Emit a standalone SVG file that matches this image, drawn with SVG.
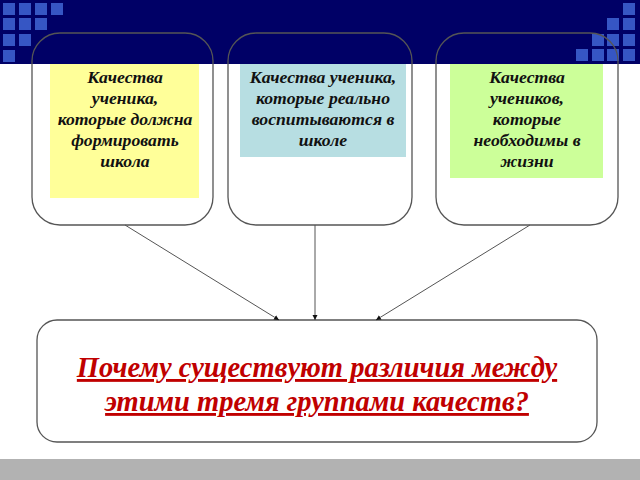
<svg xmlns="http://www.w3.org/2000/svg" width="640" height="480" viewBox="0 0 640 480">
<defs>
<style>
.sq{fill:#3656C4}
.box{fill:none;stroke:#555;stroke-width:1.3}
.t{font-family:"Liberation Serif","Times New Roman",serif;font-weight:bold;font-style:italic;font-size:17.7px;fill:#111;text-anchor:middle}
.q{font-family:"Liberation Serif","Times New Roman",serif;font-weight:bold;font-style:italic;font-size:28.5px;fill:#C00000;text-anchor:middle;text-decoration:underline}
.c{stroke:#555;stroke-width:1;fill:none;marker-end:url(#ah)}
</style>
<marker id="ah" markerWidth="6" markerHeight="6" refX="5" refY="3" orient="auto" markerUnits="userSpaceOnUse">
<path d="M0,0.5 L5,3 L0,5.5 Z" fill="#111"/>
</marker>
</defs>
<rect width="640" height="480" fill="#fff"/>
<g id="header">
<rect x="0" y="0" width="640" height="64" fill="#000066"/>
<rect class="sq" x="3" y="3" width="12" height="12"/>
<rect class="sq" x="19" y="3" width="12" height="12"/>
<rect class="sq" x="35" y="3" width="12" height="12"/>
<rect class="sq" x="51" y="3" width="12" height="12"/>
<rect class="sq" x="3" y="18" width="12" height="12"/>
<rect class="sq" x="19" y="18" width="12" height="12"/>
<rect class="sq" x="35" y="18" width="12" height="12"/>
<rect class="sq" x="3" y="34" width="12" height="12"/>
<rect class="sq" x="19" y="34" width="12" height="12"/>
<rect class="sq" x="3" y="50" width="12" height="12"/>
<rect class="sq" x="623" y="3" width="12" height="12"/>
<rect class="sq" x="607" y="18" width="12" height="12"/>
<rect class="sq" x="623" y="18" width="12" height="12"/>
<rect class="sq" x="592" y="34" width="12" height="12"/>
<rect class="sq" x="607" y="34" width="12" height="12"/>
<rect class="sq" x="623" y="34" width="12" height="12"/>
<rect class="sq" x="576" y="49" width="12" height="12"/>
<rect class="sq" x="592" y="49" width="12" height="12"/>
<rect class="sq" x="607" y="49" width="12" height="12"/>
<rect class="sq" x="623" y="49" width="12" height="12"/>
</g>
<rect x="0" y="459" width="640" height="21" fill="#B2B2B2"/>
<g id="node1">
<rect x="50" y="64" width="149" height="134" fill="#FFFF99"/>
<rect class="box" x="32" y="33" width="181" height="192" rx="28"/>
<text class="t" x="125" y="83">Качества</text>
<text class="t" x="125" y="104">ученика,</text>
<text class="t" x="125" y="125">которые должна</text>
<text class="t" x="125" y="146">формировать</text>
<text class="t" x="125" y="167">школа</text>
</g>
<g id="node2">
<rect x="240" y="64" width="166" height="93" fill="#B7DEE2"/>
<rect class="box" x="228" y="33" width="184" height="192" rx="28"/>
<text class="t" x="323" y="83">Качества ученика,</text>
<text class="t" x="323" y="104">которые реально</text>
<text class="t" x="323" y="125">воспитываются в</text>
<text class="t" x="323" y="146">школе</text>
</g>
<g id="node3">
<rect x="450" y="64" width="153" height="114" fill="#CCFF99"/>
<rect class="box" x="436" y="33" width="182" height="192" rx="28"/>
<text class="t" x="527" y="83">Качества</text>
<text class="t" x="527" y="104">учеников,</text>
<text class="t" x="527" y="125">которые</text>
<text class="t" x="527" y="146">необходимы в</text>
<text class="t" x="527" y="167">жизни</text>
</g>
<g id="node4">
<rect class="box" x="37" y="320" width="560" height="122" rx="20"/>
<text class="q" x="317" y="377">Почему существуют различия между</text>
<text class="q" x="317" y="411">этими тремя группами качеств?</text>
</g>
<g id="connectors">
<line class="c" x1="125" y1="225" x2="279" y2="320"/>
<line class="c" x1="315" y1="225" x2="315" y2="320"/>
<line class="c" x1="530" y1="225" x2="376" y2="320"/>
</g>
</svg>
